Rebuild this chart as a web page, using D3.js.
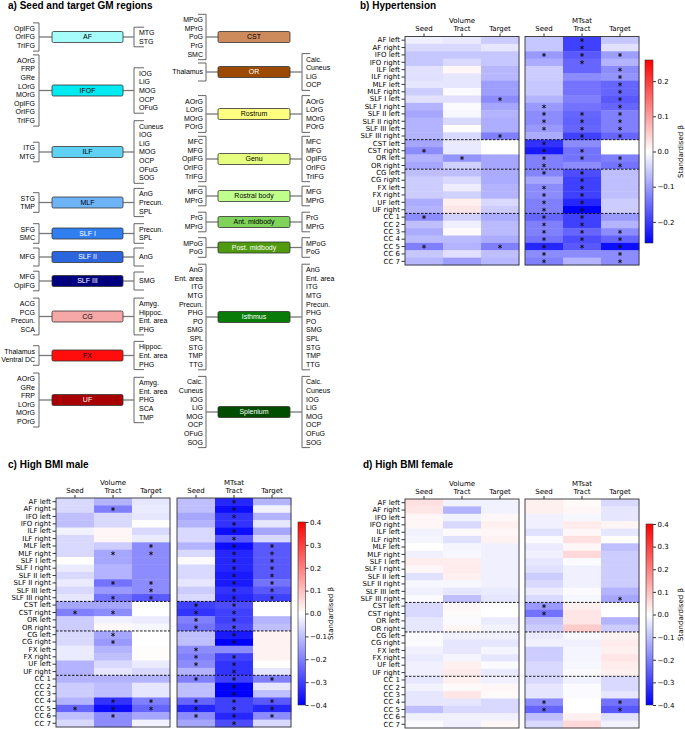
<!DOCTYPE html>
<html>
<head>
<meta charset="utf-8">
<script src="https://cdn.jsdelivr.net/npm/d3@7"></script>
<style>
  body { margin: 0; background: #fff; }
  .title { font-family: "Liberation Sans", Arial, sans-serif; font-weight: bold; font-size: 10px; }
  .gm { font-family: "Liberation Sans", Arial, sans-serif; font-size: 7px; }
  .hm text { font-family: "DejaVu Sans", sans-serif; font-size: 7px; }
</style>
</head>
<body>
<script>
// ---------- panel a data ----------
const leftTracts = ["AF", "IFOF", "ILF", "MLF", "SLF I", "SLF II", "SLF III", "CG", "FX", "UF"];
const leftSeeds = [
  ["OpIFG", "OrIFG", "TrIFG"],
  ["AOrG", "FRP", "GRe", "LOrG", "MOrG", "OpIFG", "OrIFG", "TrIFG"],
  ["ITG", "MTG"],
  ["STG", "TMP"],
  ["SFG", "SMC"],
  ["MFG"],
  ["MFG", "OpIFG"],
  ["ACG", "PCG", "Precun.", "SCA"],
  ["Thalamus", "Ventral DC"],
  ["AOrG", "GRe", "FRP", "LOrG", "MOrG", "POrG"]
];
const leftTargets = [
  ["MTG", "STG"],
  ["IOG", "LiG", "MOG", "OCP", "OFuG"],
  ["Cuneus", "IOG", "LiG", "MOG", "OCP", "OFuG", "SOG"],
  ["AnG", "Precun.", "SPL"],
  ["Precun.", "SPL"],
  ["AnG"],
  ["SMG"],
  ["Amyg.", "Hippoc.", "Ent. area", "PHG"],
  ["Hippoc.", "Ent. area", "PHG"],
  ["Amyg.", "Ent. area", "PHG", "SCA", "TMP"]
];
const rightTracts = ["CST", "OR", "Rostrum", "Genu", "Rostral body", "Ant. midbody", "Post. midbody", "Isthmus", "Splenium"];
const rightSeeds = [
  ["MPoG", "MPrG", "PoG", "PrG", "SMC"],
  ["Thalamus"],
  ["AOrG", "LOrG", "MOrG", "POrG"],
  ["MFC", "MFG", "OpIFG", "OrIFG", "TrIFG"],
  ["MFG", "MPrG"],
  ["PrG", "MPrG"],
  ["MPoG", "PoG"],
  ["AnG", "Ent. area", "ITG", "MTG", "Precun.", "PHG", "PO", "SMG", "SPL", "STG", "TMP", "TTG"],
  ["Calc.", "Cuneus", "IOG", "LiG", "MOG", "OCP", "OFuG", "SOG"]
];
const rightTargets = [
  [],
  ["Calc.", "Cuneus", "LiG", "OCP"],
  ["AOrG", "LOrG", "MOrG", "POrG"],
  ["MFC", "MFG", "OpIFG", "OrIFG", "TrIFG"],
  ["MFG", "MPrG"],
  ["PrG", "MPrG"],
  ["MPoG", "PoG"],
  ["AnG", "Ent. area", "ITG", "MTG", "Precun.", "PHG", "PO", "SMG", "SPL", "STG", "TMP", "TTG"],
  ["Calc.", "Cuneus", "IOG", "LiG", "MOG", "OCP", "OFuG", "SOG"]
];

// layout + styling of the tract boxes (kept apart from the data)
const leftY = [37, 90.5, 152, 202.5, 233.5, 257, 281, 316.5, 355.5, 400];
const rightY = [37, 72, 114, 159, 196, 222, 247.5, 317, 412];
const leftFill = ["#a6fbfb", "#00eaf2", "#5fd2f4", "#6db3f6", "#2f7ff0", "#2c66de", "#00007f", "#f6a8a8", "#ff0d0d", "#a80000"];
const leftInk = ["#000", "#000", "#000", "#000", "#fff", "#fff", "#fff", "#000", "#000", "#fff"];
const rightFill = ["#cd8a5b", "#9b4a00", "#ffff80", "#e7ff80", "#c0ff8c", "#7fd25a", "#4f9a0f", "#097b09", "#004d00"];
const rightInk = ["#000", "#fff", "#000", "#000", "#000", "#000", "#fff", "#fff", "#fff"];

// ---------- heatmap data (standardised beta) ----------
const rowLabels = ["AF left", "AF right", "IFO left", "IFO right", "ILF left", "ILF right", "MLF left", "MLF right",
  "SLF I left", "SLF I right", "SLF II left", "SLF II right", "SLF III left", "SLF III right", "CST left", "CST right",
  "OR left", "OR right", "CG left", "CG right", "FX left", "FX right", "UF left", "UF right",
  "CC 1", "CC 2", "CC 3", "CC 4", "CC 5", "CC 6", "CC 7"];
const colLabels = ["Seed", "Tract", "Target"];
const groupBreaks = [14, 18, 24];

// columns: seed, tract, target (null = no target region)
const hypVolume = [
  [-.016, -.023, -.052], [-.039, -.039, -.026], [-.057, -.057, -.057], [-.057, -.039, -.057],
  [-.031, .008, -.073], [-.031, -.026, -.073], [-.026, -.026, -.099], [-.052, -.005, -.099],
  [-.031, -.031, -.117], [-.078, -.005, -.091], [-.091, -.008, -.078], [-.078, -.039, -.083],
  [-.078, 0, -.083], [-.078, -.039, -.13], [-.091, -.021, null], [-.117, -.021, null],
  [-.078, -.109, -.091], [-.091, -.047, -.091], [-.065, -.065, -.086], [-.052, -.039, -.086],
  [-.052, -.018, -.078], [-.052, -.047, -.078], [-.086, .016, -.039], [-.078, .026, -.052],
  [-.117, -.047, -.086], [-.065, -.016, -.07], [-.086, .005, -.07], [-.07, -.07, -.086],
  [-.13, -.078, -.13], [-.057, -.031, -.065], [-.073, -.099, -.073]
];
const hypMTsat = [
  [-.057, -.195, -.057], [-.057, -.195, -.031], [-.104, -.169, -.099], [-.086, -.156, -.078],
  [-.052, -.156, -.117], [-.052, -.117, -.109], [-.057, -.143, -.156], [-.057, -.143, -.156],
  [-.078, -.13, -.169], [-.104, -.143, -.156], [-.117, -.156, -.13], [-.117, -.161, -.13],
  [-.104, -.156, -.13], [-.086, -.195, -.156], [-.208, -.117, null], [-.234, -.143, null],
  [-.13, -.143, -.13], [-.13, -.117, -.143], [-.125, -.182, -.065], [-.091, -.195, -.065],
  [-.117, -.195, -.065], [-.117, -.195, -.065], [-.13, -.221, -.052], [-.13, -.26, -.052],
  [-.156, -.195, -.104], [-.13, -.195, -.078], [-.13, -.156, -.117], [-.143, -.182, -.156],
  [-.221, -.169, -.247], [-.117, -.117, -.117], [-.13, -.078, -.117]
];
const maleVolume = [
  [-.06, -.12, -.04], [-.06, -.2, -.032], [-.1, -.06, -.04], [-.1, -.06, 0],
  [-.02, .012, -.06], [-.06, .016, -.032], [-.06, -.08, -.18], [-.06, -.14, -.18],
  [0, -.14, -.18], [-.032, -.12, -.18], [-.06, -.12, -.18], [-.032, -.22, -.18],
  [-.06, -.16, -.18], [-.04, -.22, -.26], [-.14, -.14, null], [-.2, -.18, null],
  [-.08, -.024, -.032], [-.08, .008, -.012], [-.06, -.14, 0], [-.06, -.16, 0],
  [-.032, -.12, .004], [-.032, -.1, .004], [-.12, -.06, -.032], [-.12, -.04, -.06],
  [-.12, -.12, -.12], [-.08, -.1, -.04], [-.08, -.1, -.04], [-.12, -.32, -.2],
  [-.24, -.38, -.24], [-.1, -.18, -.14], [-.06, -.18, -.02]
];
const maleMTsat = [
  [-.1, -.34, -.12], [-.1, -.38, -.02], [-.14, -.32, -.12], [-.12, -.32, -.04],
  [-.06, -.38, -.14], [-.06, -.26, -.06], [-.12, -.38, -.26], [-.06, -.34, -.26],
  [-.008, -.34, -.26], [-.06, -.34, -.26], [-.06, -.36, -.26], [-.04, -.36, -.22],
  [-.08, -.32, -.26], [-.06, -.34, -.3], [-.3, -.28, null], [-.32, -.3, null],
  [-.2, -.3, -.12], [-.22, -.28, -.1], [-.1, -.36, .02], [-.1, -.4, .02],
  [-.18, -.18, .02], [-.2, -.3, .02], [-.18, -.32, 0], [-.12, -.32, -.04],
  [-.2, -.3, -.2], [-.1, -.4, -.04], [-.1, -.4, -.1], [-.24, -.3, -.26],
  [-.34, -.3, -.34], [-.18, -.34, -.18], [-.14, -.28, -.06]
];
const femaleVolume = [
  [.048, -.02, -.02], [.04, -.12, -.02], [.012, -.02, .012], [.012, -.06, .024],
  [-.02, .008, .012], [-.016, -.048, .02], [0, -.016, -.024], [-.024, -.012, -.024],
  [.028, .028, -.024], [.012, .032, -.024], [-.048, .024, -.024], [-.012, -.012, -.024],
  [-.024, -.04, -.032], [-.008, -.1, -.04], [-.06, .012, null], [-.06, .008, null],
  [-.04, -.008, -.032], [-.04, .016, -.02], [-.008, -.024, -.024], [-.008, -.04, -.04],
  [-.024, -.04, -.016], [-.032, -.016, -.04], [-.024, .024, -.008], [-.024, .032, -.032],
  [-.04, .024, -.024], [-.02, .008, .012], [-.04, .04, .008], [-.04, -.04, -.06],
  [-.1, -.06, -.06], [-.024, -.024, -.024], [-.008, -.024, .012]
];
const femaleMTsat = [
  [.024, .008, -.06], [.024, .012, -.04], [-.024, -.012, -.04], [-.024, .032, .016],
  [-.048, .012, -.04], [-.008, .048, 0], [-.032, .012, -.1], [-.024, .06, -.08],
  [-.04, -.008, -.08], [-.048, -.024, -.08], [-.08, -.024, -.08], [-.06, -.024, -.08],
  [-.032, -.008, -.12], [-.06, -.012, -.14], [-.16, .024, null], [-.22, .04, null],
  [-.1, .04, -.12], [-.08, .08, -.08], [-.032, -.012, .02], [-.02, -.024, .032],
  [-.08, -.016, .024], [-.08, -.016, .04], [-.06, -.012, .028], [-.06, -.004, .024],
  [-.06, -.024, -.06], [-.04, -.008, -.06], [-.04, -.008, -.04], [-.18, 0, -.22],
  [-.24, 0, -.26], [-.1, .024, -.048], [-.06, .06, -.02]
];

// significant cells, [row, column]
const hypVolumeSig = [[8, 2], [13, 2], [15, 0], [16, 1], [24, 0], [28, 0], [28, 2]];
const hypMTsatSig = [
  [0, 1], [1, 1], [2, 0], [2, 1], [2, 2], [3, 1], [4, 2], [5, 2], [6, 2], [7, 2], [8, 2], [9, 0], [9, 2],
  [10, 0], [10, 1], [10, 2], [11, 0], [11, 1], [11, 2], [12, 0], [12, 1], [12, 2], [13, 1], [13, 2],
  [14, 0], [15, 0], [15, 1], [16, 0], [16, 1], [16, 2], [17, 0], [17, 2], [18, 0], [18, 1], [19, 1],
  [20, 0], [20, 1], [21, 0], [21, 1], [22, 0], [22, 1], [23, 0], [23, 1], [24, 0], [24, 1], [25, 0], [25, 1],
  [26, 0], [26, 1], [26, 2], [27, 0], [27, 1], [27, 2], [28, 0], [28, 1], [28, 2], [29, 0], [29, 2], [30, 0], [30, 2]
];
const maleVolumeSig = [[1, 1], [6, 2], [7, 1], [7, 2], [11, 1], [11, 2], [12, 2], [13, 1], [13, 2],
  [15, 0], [15, 1], [18, 1], [19, 1], [27, 1], [27, 2], [28, 0], [28, 1], [28, 2], [29, 1]];
const maleMTsatSig = [
  [0, 1], [1, 1], [2, 1], [3, 1], [4, 1], [5, 1], [6, 1], [6, 2], [7, 1], [7, 2], [8, 1], [8, 2], [9, 1], [9, 2],
  [10, 1], [10, 2], [11, 1], [11, 2], [12, 1], [12, 2], [13, 1], [13, 2], [14, 0], [14, 1], [15, 0], [15, 1],
  [16, 0], [16, 1], [17, 0], [17, 1], [18, 1], [19, 1], [20, 0], [21, 0], [21, 1], [22, 0], [22, 1], [23, 1],
  [24, 0], [24, 1], [24, 2], [25, 1], [26, 1], [27, 0], [27, 1], [27, 2], [28, 0], [28, 1], [28, 2],
  [29, 0], [29, 1], [29, 2], [30, 1]
];
const femaleVolumeSig = [];
const femaleMTsatSig = [[13, 2], [14, 0], [15, 0], [27, 0], [27, 2], [28, 0], [28, 2]];

// ---------- drawing ----------
const width = 685, height = 729;
const svg = d3.select("body").append("svg")
    .attr("width", width)
    .attr("height", height)
    .attr("viewBox", [0, 0, width, height]);
const defs = svg.append("defs");

// ----- panel a -----
const pa = svg.append("g");
pa.append("text").attr("class", "title").attr("x", 8).attr("y", 9).text("a) Seed and target GM regions");

const step = 8.6, boxH = 11;

function bracket(g, labels, cy, side, xLine, tick, labelX, boxEdge) {
  const n = labels.length;
  if (!n) return;
  const half = Math.max(9, (n - 1) / 2 * step + 5.5);
  const tx = xLine + side * tick;
  g.append("path")
      .attr("d", `M${tx},${cy - half}H${xLine}V${cy + half}H${tx}`)
      .attr("fill", "none")
      .attr("stroke", "#555")
      .attr("stroke-width", 0.9);
  g.append("line")
      .attr("x1", xLine).attr("x2", boxEdge)
      .attr("y1", cy).attr("y2", cy)
      .attr("stroke", "#777")
      .attr("stroke-width", 1.3);
  g.selectAll(null).data(labels).join("text")
      .attr("class", "gm")
      .attr("x", labelX)
      .attr("y", (d, k) => cy + (k - (n - 1) / 2) * step)
      .attr("dy", "0.35em")
      .attr("text-anchor", side < 0 ? "end" : "start")
      .text(d => d);
}

function tractColumn(names, seeds, targets, ys, fills, inks, c) {
  names.forEach((name, i) => {
    const g = pa.append("g");
    bracket(g, seeds[i], ys[i], -1, c.lLine, c.lTick, c.lText, c.boxX);
    bracket(g, targets[i], ys[i], 1, c.rLine, c.rTick, c.rText, c.boxX + c.boxW);
    g.append("rect")
        .attr("x", c.boxX).attr("y", ys[i] - boxH / 2)
        .attr("width", c.boxW).attr("height", boxH)
        .attr("rx", 1.5)
        .attr("fill", fills[i])
        .attr("stroke", "#333")
        .attr("stroke-width", 0.8);
    g.append("text")
        .attr("class", "gm")
        .attr("x", c.boxX + c.boxW / 2).attr("y", ys[i])
        .attr("dy", "0.35em")
        .attr("text-anchor", "middle")
        .attr("fill", inks[i])
        .text(name);
  });
}

tractColumn(leftTracts, leftSeeds, leftTargets, leftY, leftFill, leftInk,
  {boxX: 52, boxW: 71, lLine: 39, lTick: 6, lText: 35, rLine: 134, rTick: 10, rText: 139});
tractColumn(rightTracts, rightSeeds, rightTargets, rightY, rightFill, rightInk,
  {boxX: 218, boxW: 72, lLine: 206, lTick: 8, lText: 203, rLine: 302, rTick: 8, rText: 306});

// ----- heatmaps -----
const star = d3.symbol(d3.symbolAsterisk, 11)();

function heatmapPanel(o) {
  const g = svg.append("g").attr("class", "hm");
  svg.append("text").attr("class", "title").attr("x", o.tx).attr("y", o.ty).text(o.title);

  const y = d3.scaleBand().domain(rowLabels).range([o.top, o.top + o.h]);
  const color = d3.scaleLinear()
      .domain([-o.vmax, 0, o.vmax])
      .range(["#0000ff", "#ffffff", "#ff0000"])
      .clamp(true);

  const blocks = [
    {data: o.vol, sig: o.volSig, x0: o.x1, name: "Volume"},
    {data: o.mt, sig: o.mtSig, x0: o.x2, name: "MTsat"}
  ];

  blocks.forEach((b, k) => {
    const x = d3.scaleBand().domain(colLabels).range([b.x0, b.x0 + o.w]);
    const cells = b.data.flatMap((r, i) => r.map((v, j) => ({i, j, v})));

    g.append("g").selectAll("rect").data(cells).join("rect")
        .attr("x", d => x(colLabels[d.j]))
        .attr("y", d => y(rowLabels[d.i]))
        .attr("width", x.bandwidth() + 0.4)
        .attr("height", y.bandwidth() + 0.4)
        .attr("fill", d => d.v == null ? "#fff" : color(d.v));

    g.append("g").selectAll("line").data(groupBreaks).join("line")
        .attr("x1", b.x0).attr("x2", b.x0 + o.w)
        .attr("y1", d => y(rowLabels[d])).attr("y2", d => y(rowLabels[d]))
        .attr("stroke", "#000")
        .attr("stroke-width", 0.9)
        .attr("stroke-dasharray", "2.5,1.5");

    // significance marks
    g.append("g").selectAll("path").data(b.sig).join("path")
        .attr("d", star)
        .attr("transform", d => `translate(${x(colLabels[d[1]]) + x.bandwidth() / 2},${y(rowLabels[d[0]]) + y.bandwidth() / 2})`)
        .attr("fill", "none")
        .attr("stroke", "#111")
        .attr("stroke-width", 0.9);

    g.append("rect")
        .attr("x", b.x0).attr("y", o.top)
        .attr("width", o.w).attr("height", o.h)
        .attr("fill", "none")
        .attr("stroke", "#333")
        .attr("stroke-width", 0.9);

    const top = g.append("g")
        .attr("transform", `translate(0,${o.top})`)
        .call(d3.axisTop(x).tickSize(3).tickFormat(""));
    top.select(".domain").remove();
    top.selectAll("line").attr("stroke", "#333");

    colLabels.forEach(c => {
      const cx = x(c) + x.bandwidth() / 2;
      g.append("text").attr("x", cx).attr("y", o.top - 5.5).attr("text-anchor", "middle").text(c);
      if (c === "Tract") g.append("text").attr("x", cx).attr("y", o.top - 13.5).attr("text-anchor", "middle").text(b.name);
    });

    if (k === 0) {
      const left = g.append("g")
          .attr("transform", `translate(${b.x0},0)`)
          .call(d3.axisLeft(y).tickSize(3.5).tickPadding(1.5));
      left.select(".domain").remove();
      left.selectAll("line").attr("stroke", "#333");
      left.selectAll("text").attr("fill", "#000");
    }
  });

  // colour bar
  const gid = "grad-" + o.id;
  const grad = defs.append("linearGradient").attr("id", gid)
      .attr("x1", 0).attr("y1", 0).attr("x2", 0).attr("y2", 1);
  grad.append("stop").attr("offset", "0%").attr("stop-color", "#ff0000");
  grad.append("stop").attr("offset", "50%").attr("stop-color", "#ffffff");
  grad.append("stop").attr("offset", "100%").attr("stop-color", "#0000ff");

  const cb = d3.scaleLinear().domain([-o.vmax, o.vmax]).range([o.cbY + o.cbH, o.cbY]);
  g.append("rect")
      .attr("x", o.cbX).attr("y", o.cbY)
      .attr("width", o.cbW).attr("height", o.cbH)
      .attr("fill", `url(#${gid})`)
      .attr("stroke", "#333")
      .attr("stroke-width", 0.6);
  const ax = g.append("g")
      .attr("transform", `translate(${o.cbX + o.cbW},0)`)
      .call(d3.axisRight(cb).tickValues(o.ticks).tickSize(3).tickPadding(1.5).tickFormat(d3.format(".1f")));
  ax.select(".domain").remove();
  ax.selectAll("line").attr("stroke", "#333");
  ax.selectAll("text").attr("fill", "#000");

  g.append("text")
      .attr("transform", `translate(${o.lblX},${o.cbY + o.cbH / 2}) rotate(-90)`)
      .attr("text-anchor", "middle")
      .text("Standardised β");
}

heatmapPanel({
  id: "b", title: "b) Hypertension", tx: 360, ty: 9,
  vol: hypVolume, mt: hypMTsat, volSig: hypVolumeSig, mtSig: hypMTsatSig,
  x1: 405, x2: 525, w: 114, top: 36.5, h: 228.5, vmax: 0.26,
  cbX: 645, cbY: 60, cbW: 8, cbH: 183, lblX: 683, ticks: [-0.2, -0.1, 0, 0.1, 0.2]
});
heatmapPanel({
  id: "c", title: "c) High BMI male", tx: 8, ty: 468,
  vol: maleVolume, mt: maleMTsat, volSig: maleVolumeSig, mtSig: maleMTsatSig,
  x1: 56, x2: 177, w: 114, top: 498, h: 229, vmax: 0.4,
  cbX: 298, cbY: 522, cbW: 7.5, cbH: 183, lblX: 333, ticks: d3.range(-4, 5).map(d => d / 10)
});
heatmapPanel({
  id: "d", title: "d) High BMI female", tx: 363, ty: 468,
  vol: femaleVolume, mt: femaleMTsat, volSig: femaleVolumeSig, mtSig: femaleMTsatSig,
  x1: 405, x2: 525, w: 114, top: 499, h: 229, vmax: 0.4,
  cbX: 646, cbY: 524, cbW: 7, cbH: 181, lblX: 683, ticks: d3.range(-4, 5).map(d => d / 10)
});
</script>
</body>
</html>
